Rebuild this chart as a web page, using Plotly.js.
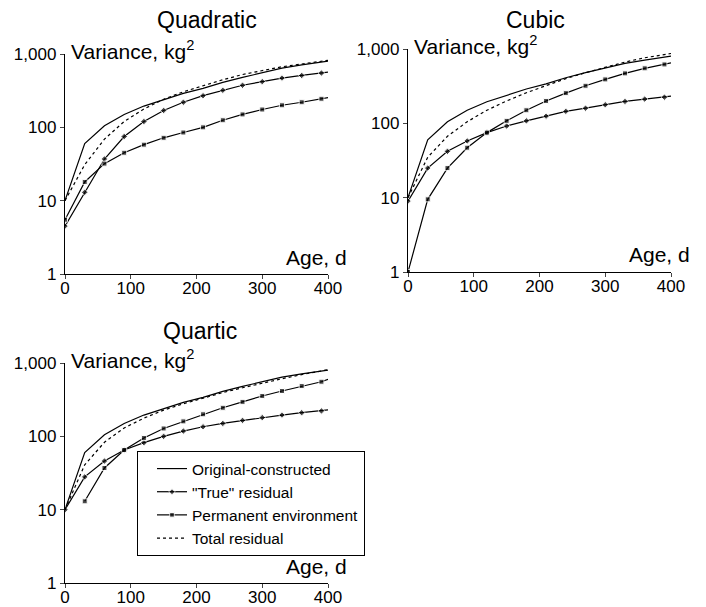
<!DOCTYPE html>
<html><head><meta charset="utf-8">
<script src="https://cdn.plot.ly/plotly-3.0.1.min.js"></script>
<style>body{margin:0;background:#fff}#c{width:706px;height:607px}</style>
</head><body><div id="c"></div>
<script>
const ageDays = [0,30,60,90,120,150,180,210,240,270,300,330,360,390,400];
const ageNoZero = [30,60,90,120,150,180,210,240,270,300,330,360,390,400];
const panelNames = ["Quadratic","Cubic","Quartic"];
const seriesNames = ["Original-constructed","\"True\" residual","Permanent environment","Total residual"];

const originalConstructed = [10,60,105,150,195,240,290,340,410,480,560,640,710,770,800];

const quadTrue  = [4.5,13,37,75,120,170,220,270,320,375,420,470,510,550,565];
const quadPE    = [5.5,18,32,45,58,72,85,100,125,150,175,200,220,245,255];
const quadTotal = [10,31,69,120,178,242,305,370,445,525,595,670,730,795,820];

const cubTrue   = [9,25,42,58,75,92,108,125,145,160,178,197,212,225,232];
const cubPE     = [1,9.5,25,47,75,108,150,200,255,320,390,470,550,620,650];
const cubTotal  = [10,35,67,105,150,200,258,325,400,480,568,667,762,845,870];

const quarTrue  = [10,28,46,65,82,100,118,135,150,165,180,195,210,222,230];
const quarPE    = [13,37,65,95,128,160,200,245,295,355,415,485,555,600];
const quarTotal = [10,41,83,130,177,228,278,335,395,460,535,610,695,777,810];

const yTickVals = [1,10,100,1000];
const yTickText = ["1","10","100","1,000"];
const xTickVals = [0,100,200,300,400];

const lineW = 1.2;
function sizes(n){ const s = new Array(n).fill(5); s[n-1]=0; return s; }

function panelTraces(i, tr, pe, tot, peX, show){
  const xa = i===0 ? 'x' : 'x'+(i+1), ya = i===0 ? 'y' : 'y'+(i+1);
  return [
    {x:ageDays, y:originalConstructed, xaxis:xa, yaxis:ya, mode:'lines', name:seriesNames[0],
     line:{color:'#000', width:lineW}, showlegend:show},
    {x:ageDays, y:tr, xaxis:xa, yaxis:ya, mode:'lines+markers', name:seriesNames[1],
     line:{color:'#000', width:lineW}, marker:{symbol:'diamond', size:sizes(tr.length), color:'#000'}, showlegend:show},
    {x:peX, y:pe, xaxis:xa, yaxis:ya, mode:'lines+markers', name:seriesNames[2],
     line:{color:'#000', width:lineW}, marker:{symbol:'square', size:sizes(pe.length), color:'#000'}, showlegend:show},
    {x:ageDays, y:tot, xaxis:xa, yaxis:ya, mode:'lines', name:seriesNames[3],
     line:{color:'#000', width:1.2, dash:'dot'}, showlegend:show}
  ];
}

const data = [].concat(
  panelTraces(0, quadTrue, quadPE, quadTotal, ageDays, false),
  panelTraces(1, cubTrue, cubPE, cubTotal, ageDays, false),
  panelTraces(2, quarTrue, quarPE, quarTotal, ageNoZero, true)
);

const W=706, H=607;
const panels = [
  {l:65, r:328, t:54, b:274, tx:207, ty:20},
  {l:408, r:671, t:49, b:272, tx:535, ty:20},
  {l:65, r:328, t:363, b:583, tx:200, ty:331}
];
const font = {family:'"Liberation Sans", Arial, sans-serif', color:'#000'};
const layout = {
  width:W, height:H, margin:{l:0,r:0,t:0,b:0},
  paper_bgcolor:'#fff', plot_bgcolor:'#fff',
  font:Object.assign({size:17}, font),
  showlegend:true,
  legend:{x:137/W, y:1-451/H, xanchor:'left', yanchor:'top', bgcolor:'#fff',
    bordercolor:'#000', borderwidth:1, font:Object.assign({size:15.5}, font),
    tracegroupgap:0, itemwidth:30, indentation:14},
  annotations:[]
};
panels.forEach((p,i)=>{
  const sfx = i===0 ? '' : String(i+1);
  layout['xaxis'+sfx] = {domain:[p.l/W, p.r/W], range:[0,400], anchor:'y'+sfx,
    tickvals:xTickVals, ticks:'outside', ticklen:4, showline:true, linecolor:'#000', linewidth:1.2,
    showgrid:false, zeroline:false, ticklabelstandoff:-6, tickfont:Object.assign({size:17}, font)};
  layout['yaxis'+sfx] = {domain:[1-p.b/H, 1-p.t/H], type:'log', range:[0,3], anchor:'x'+sfx,
    tickvals:yTickVals, ticktext:yTickText, ticks:'outside', ticklen:4, showline:true, linecolor:'#000', linewidth:1.2,
    showgrid:false, zeroline:false, tickfont:Object.assign({size:17}, font)};
  layout.annotations.push({text:panelNames[i], xref:'paper', yref:'paper', x:p.tx/W, y:1-p.ty/H,
    xanchor:'center', yanchor:'middle', showarrow:false, font:Object.assign({size:23}, font)});
  layout.annotations.push({text:'Variance, kg<sup>2</sup>', xref:'paper', yref:'paper', x:(p.l+4)/W, y:1-(p.t-4)/H,
    xanchor:'left', yanchor:'middle', showarrow:false, font:Object.assign({size:21}, font)});
  layout.annotations.push({text:'Age, d', xref:'paper', yref:'paper', x:(p.r+21)/W, y:1-(p.b-17)/H,
    xanchor:'right', yanchor:'middle', showarrow:false, font:Object.assign({size:21}, font)});
});
Plotly.newPlot('c', data, layout, {displayModeBar:false, staticPlot:true});
</script></body></html>
